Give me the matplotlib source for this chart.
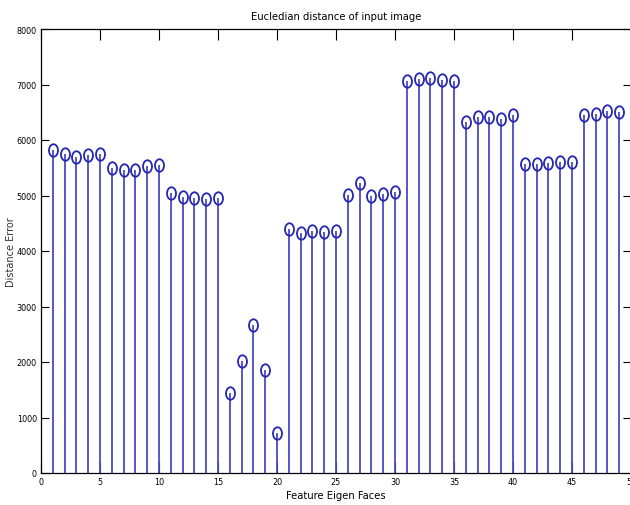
import matplotlib

matplotlib.use("Agg")
import matplotlib.pyplot as plt
import numpy as np
from matplotlib.path import Path

# distance of the input image to each feature eigen face
faces = np.arange(1, 50)
distance = [
    5820, 5740, 5700, 5725, 5740, 5495, 5465, 5465, 5525, 5555,
    5050, 4980, 4955, 4945, 4955, 1435, 2015, 2660, 1860, 720,
    4390, 4320, 4360, 4340, 4360, 5015, 5220, 4990, 5020, 5065,
    7060, 7100, 7120, 7090, 7060, 6320, 6410, 6415, 6370, 6455,
    5560, 5565, 5580, 5600, 5600, 6445, 6470, 6520, 6500,
]
x_ticks = [0, 5, 10, 15, 20, 25, 30, 35, 40, 45, 50]
y_ticks = [0, 1000, 2000, 3000, 4000, 5000, 6000, 7000, 8000]

NARROW = dict(family="DejaVu Sans", stretch="condensed")
STEM = "#4b4bc0"

# slightly tall open circle, as in the screenshot
circle = Path.unit_circle()
oval = Path(circle.vertices * np.array([0.72, 1.0]), circle.codes)

fig = plt.figure(figsize=(6.3, 5.06), dpi=100)
ax = fig.add_axes([41 / 630, 32 / 506, 590 / 630, 444 / 506])

markers, stems, base = ax.stem(faces, distance, basefmt=" ")
plt.setp(stems, color=STEM, linewidth=1.3)
plt.setp(markers, marker=oval, markersize=9, markerfacecolor="none",
         markeredgecolor="#2626b0", markeredgewidth=1.3)

ax.set_xlim(0, 50)
ax.set_ylim(0, 8000)
ax.set_xticks(x_ticks)
ax.set_yticks(y_ticks)
ax.tick_params(direction="in", top=True, right=True, length=6, width=0.8,
               labelsize=6.5, pad=3)
ax.tick_params(axis="x", length=8)
for lbl in ax.get_xticklabels() + ax.get_yticklabels():
    lbl.set_fontstretch("condensed")
for s in ax.spines.values():
    s.set_linewidth(0.9)

ax.set_title("Eucledian distance of input image", fontsize=8, pad=7, **NARROW)
ax.set_xlabel("Feature Eigen Faces", fontsize=8, labelpad=3, **NARROW)
ax.set_ylabel("Distance Error", fontsize=7, color="#333333")
ax.yaxis.set_label_coords(-0.042, 0.5)

fig.savefig("out.png", dpi=100)
